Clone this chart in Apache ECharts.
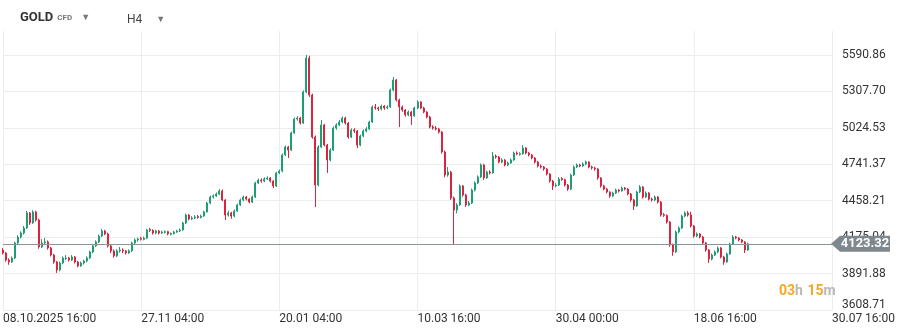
<!DOCTYPE html>
<html>
<head>
<meta charset="utf-8">
<script src="https://cdn.jsdelivr.net/npm/echarts@6/dist/echarts.min.js"></script>
<style>
html, body { margin: 0; padding: 0; background: #fff; }
#chart { width: 902px; height: 335px; }
</style>
</head>
<body>
<div id="chart"></div>
<script>
// GOLD CFD, H4 — one candle per ~3px slot of the reference picture

const tickLabels = ['08.10.2025 16:00', '27.11 04:00', '20.01 04:00', '10.03 16:00', '30.04 00:00', '18.06 16:00', '30.07 16:00'];
const candlesPerTick = 46;
const slotCount = 277;

const yTickValues = [3608.71, 3891.88, 4175.04, 4458.21, 4741.37, 5024.53, 5307.70, 5590.86];
const yMin = 3608.71;
const yMax = 5777.4;
const lastPrice = 4123.32;

const openPrices = [
    4075, 4052, 3997, 3982, 4013, 4130, 4176, 4207, 4246, 4363,
    4285, 4371, 4308, 4099, 4130, 4138, 4091, 4036, 3982, 3920,
    3974, 4008, 4013, 3997, 4021, 3982, 3951, 3974, 3990, 4013,
    4060, 4107, 4138, 4184, 4223, 4200, 4107, 4068, 4029, 4068,
    4075, 4068, 4052, 4068, 4130, 4153, 4165, 4158, 4168, 4235,
    4228, 4207, 4223, 4207, 4212, 4218, 4197, 4203, 4215, 4223,
    4231, 4285, 4347, 4316, 4324, 4336, 4328, 4339, 4371, 4440,
    4487, 4495, 4510, 4534, 4464, 4347, 4363, 4339, 4378, 4425,
    4464, 4487, 4471, 4448, 4487, 4596, 4619, 4611, 4627, 4635,
    4611, 4573, 4674, 4689, 4814, 4876, 4852, 4985, 5093, 5101,
    5062, 5303, 5567, 5280, 4953, 4580, 4876, 5047, 4891, 4775,
    4852, 5023, 5047, 5070, 5101, 5062, 4953, 5008, 5000, 4891,
    4961, 5000, 5016, 5070, 5187, 5179, 5171, 5194, 5179, 5187,
    5319, 5397, 5241, 5187, 5163, 5125, 5148, 5117, 5179, 5226,
    5179, 5148, 5109, 5031, 5023, 5016, 4992, 4837, 4658, 4681,
    4479, 4386, 4425, 4573, 4503, 4425, 4440, 4541, 4596, 4643,
    4736, 4635, 4681, 4674, 4806, 4798, 4759, 4775, 4736, 4751,
    4775, 4829, 4818, 4824, 4868, 4829, 4814, 4790, 4759, 4728,
    4720, 4705, 4666, 4611, 4573, 4580, 4630, 4622, 4580, 4549,
    4658, 4720, 4736, 4728, 4744, 4759, 4720, 4713, 4705, 4635,
    4573, 4549, 4526, 4495, 4518, 4541, 4534, 4557, 4549, 4510,
    4464, 4417, 4526, 4565, 4487, 4518, 4471, 4464, 4487, 4448,
    4350, 4344, 4293, 4114, 4060, 4215, 4246, 4339, 4363, 4347,
    4262, 4184, 4200, 4176, 4130, 4075, 4005, 4036, 4060, 4091,
    4021, 3982, 4044, 4122, 4176, 4168, 4153, 4138, 4075
];
const closePrices = [
    4052, 3997, 3982, 4013, 4130, 4176, 4207, 4246, 4363, 4285,
    4371, 4308, 4099, 4130, 4138, 4091, 4036, 3982, 3920, 3974,
    4013, 4013, 3997, 4021, 3982, 3951, 3974, 3990, 4013, 4060,
    4107, 4138, 4184, 4223, 4200, 4107, 4068, 4029, 4068, 4075,
    4068, 4052, 4068, 4130, 4153, 4161, 4158, 4168, 4231, 4228,
    4207, 4223, 4207, 4215, 4218, 4200, 4203, 4215, 4223, 4231,
    4285, 4347, 4316, 4324, 4332, 4328, 4339, 4371, 4440, 4487,
    4495, 4510, 4534, 4464, 4347, 4363, 4339, 4378, 4425, 4464,
    4487, 4471, 4448, 4487, 4596, 4619, 4611, 4627, 4635, 4611,
    4573, 4674, 4689, 4814, 4876, 4852, 4985, 5093, 5101, 5062,
    5303, 5567, 5280, 4953, 4580, 4876, 5047, 4891, 4775, 4852,
    5023, 5047, 5070, 5101, 5062, 4953, 5008, 5000, 4891, 4961,
    5000, 5016, 5070, 5187, 5179, 5171, 5194, 5179, 5187, 5319,
    5397, 5241, 5187, 5163, 5125, 5148, 5117, 5179, 5226, 5179,
    5148, 5109, 5031, 5023, 5016, 4992, 4837, 4658, 4681, 4479,
    4386, 4425, 4573, 4503, 4425, 4440, 4541, 4596, 4643, 4736,
    4635, 4681, 4674, 4806, 4798, 4759, 4775, 4736, 4751, 4775,
    4829, 4821, 4824, 4868, 4829, 4814, 4790, 4759, 4728, 4720,
    4705, 4666, 4611, 4573, 4580, 4627, 4622, 4580, 4549, 4658,
    4720, 4736, 4728, 4744, 4759, 4720, 4713, 4705, 4635, 4573,
    4549, 4526, 4495, 4518, 4541, 4534, 4557, 4549, 4510, 4464,
    4417, 4526, 4565, 4487, 4518, 4471, 4464, 4487, 4448, 4347,
    4344, 4293, 4114, 4060, 4215, 4246, 4339, 4363, 4347, 4262,
    4184, 4200, 4176, 4130, 4075, 4005, 4036, 4060, 4091, 4021,
    3982, 4044, 4122, 4176, 4168, 4153, 4138, 4075, 4123.32
];
const highPrices = [
    4090, 4060, 4010, 4025, 4140, 4190, 4220, 4262, 4378, 4370,
    4385, 4380, 4318, 4160, 4168, 4150, 4100, 4045, 3990, 3985,
    4025, 4035, 4022, 4035, 4028, 3990, 3985, 4000, 4025, 4070,
    4118, 4150, 4195, 4238, 4232, 4210, 4115, 4080, 4082, 4098,
    4088, 4075, 4080, 4140, 4165, 4172, 4178, 4180, 4240, 4246,
    4236, 4232, 4230, 4225, 4228, 4224, 4212, 4225, 4232, 4242,
    4295, 4358, 4355, 4338, 4345, 4348, 4350, 4380, 4450, 4498,
    4508, 4522, 4549, 4545, 4470, 4380, 4372, 4390, 4435, 4475,
    4498, 4495, 4478, 4498, 4605, 4630, 4632, 4640, 4648, 4642,
    4618, 4682, 4700, 4825, 4888, 4885, 4995, 5105, 5115, 5110,
    5315, 5591, 5585, 5290, 4965, 4890, 5086, 5055, 4900, 4865,
    5035, 5060, 5085, 5112, 5110, 5070, 5020, 5022, 5008, 4972,
    5012, 5030, 5080, 5198, 5210, 5190, 5205, 5202, 5200, 5330,
    5420, 5405, 5250, 5198, 5170, 5160, 5155, 5190, 5238, 5232,
    5188, 5155, 5118, 5045, 5038, 5025, 5000, 4848, 4720, 4690,
    4490, 4440, 4585, 4580, 4512, 4455, 4552, 4608, 4655, 4748,
    4745, 4692, 4695, 4837, 4818, 4806, 4788, 4782, 4762, 4786,
    4840, 4842, 4835, 4891, 4875, 4838, 4822, 4798, 4768, 4740,
    4728, 4712, 4672, 4620, 4595, 4640, 4642, 4630, 4588, 4668,
    4732, 4748, 4745, 4756, 4770, 4765, 4730, 4722, 4712, 4642,
    4582, 4558, 4532, 4528, 4552, 4550, 4568, 4565, 4555, 4518,
    4472, 4535, 4580, 4572, 4530, 4525, 4482, 4498, 4495, 4455,
    4362, 4352, 4300, 4125, 4226, 4258, 4350, 4375, 4378, 4371,
    4270, 4212, 4208, 4185, 4138, 4082, 4048, 4072, 4102, 4098,
    4030, 4055, 4132, 4190, 4185, 4175, 4160, 4145, 4132
];
const lowPrices = [
    4040, 3985, 3960, 3975, 4005, 4120, 4165, 4195, 4240, 4270,
    4278, 4295, 4085, 4090, 4118, 4078, 4025, 3968, 3897, 3910,
    3965, 3995, 3985, 3990, 3970, 3940, 3945, 3962, 3980, 4005,
    4050, 4098, 4130, 4175, 4190, 4095, 4050, 4015, 4020, 4055,
    4050, 4040, 4045, 4060, 4122, 4140, 4148, 4150, 4160, 4215,
    4195, 4198, 4195, 4200, 4203, 4190, 4188, 4196, 4208, 4215,
    4225, 4278, 4305, 4308, 4315, 4318, 4320, 4332, 4365, 4432,
    4475, 4488, 4502, 4455, 4308, 4335, 4318, 4330, 4370, 4418,
    4455, 4460, 4438, 4440, 4480, 4588, 4598, 4602, 4618, 4600,
    4557, 4565, 4665, 4680, 4805, 4790, 4845, 4978, 5080, 5050,
    5055, 5295, 5265, 4940, 4409, 4570, 4868, 4880, 4674, 4765,
    4845, 5010, 5038, 5060, 5050, 4940, 4945, 4985, 4868, 4882,
    4952, 4990, 5008, 5062, 5165, 5155, 5160, 5165, 5170, 5180,
    5310, 5230, 5031, 5150, 5112, 5115, 5047, 5110, 5170, 5170,
    5138, 5098, 5020, 5010, 5005, 4980, 4825, 4640, 4645, 4465,
    4122, 4360, 4418, 4490, 4410, 4415, 4432, 4530, 4588, 4635,
    4620, 4628, 4662, 4668, 4785, 4748, 4750, 4725, 4728, 4745,
    4768, 4812, 4808, 4815, 4818, 4802, 4780, 4748, 4716, 4708,
    4692, 4655, 4598, 4541, 4562, 4572, 4612, 4568, 4535, 4540,
    4650, 4712, 4718, 4720, 4735, 4710, 4700, 4692, 4622, 4560,
    4538, 4515, 4480, 4488, 4510, 4522, 4528, 4538, 4500, 4450,
    4386, 4410, 4518, 4475, 4480, 4460, 4452, 4455, 4436, 4335,
    4332, 4280, 4100, 4030, 4052, 4205, 4238, 4330, 4335, 4250,
    4170, 4175, 4165, 4118, 4062, 3974, 3995, 4028, 4050, 4010,
    3960, 3975, 4038, 4115, 4158, 4142, 4128, 4052, 4068
];

const UP = '#1f9d74';
const DOWN = '#d92540';
const GRID_LINE = '#ededed';
const LABEL = '#333333';

const categories = Array.from({ length: slotCount }, (_, i) => String(i));
const ohlc = openPrices.map((o, i) => [o, closePrices[i], lowPrices[i], highPrices[i]]);

const chart = echarts.init(document.getElementById('chart'), null, { renderer: 'canvas' });

const isTick = (idx) => idx % candlesPerTick === 0;

chart.setOption({
    animation: false,
    backgroundColor: '#ffffff',
    textStyle: { fontFamily: 'Roboto, sans-serif' },
    title: [
        {
            left: 15, top: 6, padding: 5,
            text: '{sym|GOLD}{cfd|CFD}{arr|▼}',
            textStyle: {
                rich: {
                    sym: { fontSize: 13, fontWeight: 'bold', color: '#333', fontFamily: 'Roboto' },
                    cfd: { fontSize: 8, color: '#777', fontFamily: 'Roboto', padding: [0, 0, 0, 4] },
                    arr: { fontSize: 9, color: '#777', padding: [0, 0, 0, 9] }
                }
            }
        },
        {
            left: 122, top: 9, padding: 5,
            text: '{tf|H4}{arr|▼}',
            textStyle: {
                rich: {
                    tf: { fontSize: 12, fontWeight: 'normal', color: '#444', fontFamily: 'Roboto' },
                    arr: { fontSize: 9, color: '#777', padding: [0, 0, 0, 14] }
                }
            }
        },
        {
            left: 774, top: 277, padding: 5,
            text: '{o|03}{g|h} {o|15}{g|m}',
            textStyle: {
                rich: {
                    o: { fontSize: 14, color: '#f5a623', fontFamily: 'Roboto' },
                    g: { fontSize: 14, color: '#b8b8b8', fontFamily: 'Roboto' }
                }
            }
        }
    ],
    grid: { left: 3, right: 70, top: 31, bottom: 25, containLabel: false, outerBoundsMode: 'none' },
    xAxis: {
        type: 'category',
        data: categories,
        boundaryGap: false,
        axisLine: { show: false },
        axisTick: { show: false },
        axisLabel: {
            interval: (idx) => isTick(idx),
            formatter: (v, idx) => tickLabels[Math.round(idx / candlesPerTick)],
            align: 'left',
            margin: 3,
            color: LABEL,
            fontSize: 12,
            fontFamily: 'Roboto'
        },
        splitLine: { show: true, interval: (idx) => isTick(idx), lineStyle: { color: GRID_LINE, width: 1 } }
    },
    yAxis: {
        type: 'value',
        position: 'right',
        min: yMin,
        max: yMax,
        scale: true,
        axisLine: { show: false },
        axisTick: { show: false, customValues: yTickValues },
        axisLabel: {
            customValues: yTickValues,
            margin: 10,
            color: LABEL,
            fontSize: 12,
            fontFamily: 'Roboto',
            formatter: (v) => (Math.abs(v - yMin) < 0.01 ? '{low|' + v.toFixed(2) + '}' : v.toFixed(2)),
            rich: { low: { fontSize: 12, color: LABEL, fontFamily: 'Roboto', padding: [0, 0, 10, 0] } }
        },
        splitLine: { show: true, lineStyle: { color: GRID_LINE, width: 1 } }
    },
    series: [{
        name: 'GOLD',
        type: 'candlestick',
        data: ohlc,
        barWidth: 1.5,
        itemStyle: {
            color: UP,
            color0: DOWN,
            borderColor: UP,
            borderColor0: DOWN,
            borderWidth: 1
        },
        markLine: {
            silent: true,
            symbol: ['none', 'none'],
            label: { show: false },
            lineStyle: { color: '#8a9398', width: 1, type: 'solid' },
            data: [{ yAxis: lastPrice }]
        }
    }]
});

// price tag on the right axis, placed through the y scale
const tagY = chart.convertToPixel({ yAxisIndex: 0 }, lastPrice);
const tagX = chart.convertToPixel({ xAxisIndex: 0 }, slotCount - 1);
chart.setOption({
    graphic: [
        {
            type: 'polygon',
            z: 100,
            shape: {
                points: [
                    [tagX - 1, tagY],
                    [tagX + 8, tagY - 8],
                    [tagX + 58, tagY - 8],
                    [tagX + 58, tagY + 8],
                    [tagX + 8, tagY + 8]
                ]
            },
            style: { fill: '#7f888e' }
        },
        {
            type: 'text',
            z: 101,
            x: tagX + 33,
            y: tagY,
            style: {
                text: lastPrice.toFixed(2),
                fill: '#ffffff',
                font: 'bold 13px Roboto',
                align: 'center',
                verticalAlign: 'middle'
            }
        }
    ]
});
</script>
</body>
</html>
